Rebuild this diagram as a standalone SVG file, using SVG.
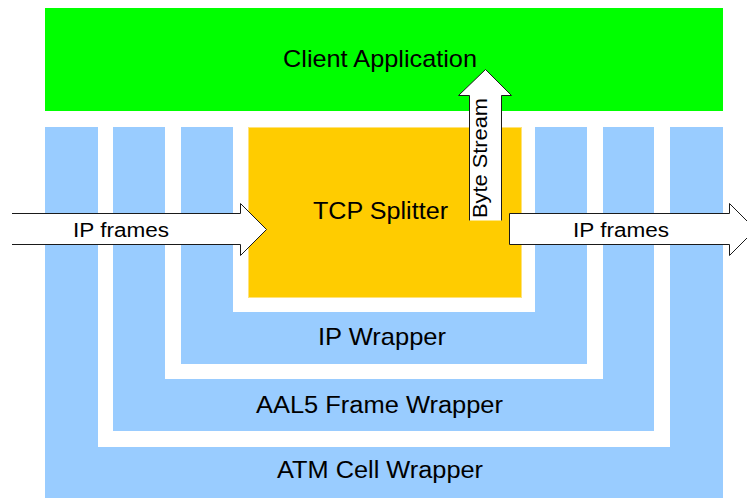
<svg xmlns="http://www.w3.org/2000/svg" width="747" height="498" viewBox="0 0 747 498">
<style>
.t{font-family:"Liberation Sans",Arial,sans-serif;fill:#000;text-anchor:middle}
.blue{fill:#99CCFF}
.gap{fill:#FFFFFF}
.arrow{fill:#FFFFFF;stroke:#1a1a1a;stroke-width:1}
</style>
<rect x="0" y="0" width="747" height="498" fill="#FFFFFF"/>
<g id="client-application">
<rect x="45" y="8" width="678" height="103" fill="#00FF00"/>
<text class="t" x="380" y="67" font-size="24" textLength="194" lengthAdjust="spacingAndGlyphs">Client Application</text>
</g>
<g id="atm-cell-wrapper">
<rect class="blue" x="45" y="127" width="678" height="371"/>
<rect class="gap" x="98" y="127" width="572" height="320"/>
<text class="t" x="380" y="478" font-size="23" textLength="206" lengthAdjust="spacingAndGlyphs">ATM Cell Wrapper</text>
</g>
<g id="aal5-frame-wrapper">
<rect class="blue" x="113" y="127" width="541" height="304"/>
<rect class="gap" x="165" y="127" width="438" height="252"/>
<text class="t" x="379.5" y="413" font-size="23" textLength="247" lengthAdjust="spacingAndGlyphs">AAL5 Frame Wrapper</text>
</g>
<g id="ip-wrapper">
<rect class="blue" x="181" y="127" width="406" height="237"/>
<rect class="gap" x="233" y="127" width="302" height="185"/>
<text class="t" x="382" y="345" font-size="24" textLength="128" lengthAdjust="spacingAndGlyphs">IP Wrapper</text>
</g>
<g id="tcp-splitter">
<rect x="248.5" y="127.5" width="273" height="170" fill="#FFCC00" stroke="#FFE27A" stroke-width="1"/>
<text class="t" x="380.5" y="219" font-size="23" textLength="135" lengthAdjust="spacingAndGlyphs">TCP Splitter</text>
</g>
<g id="connectors">
<g id="ip-frames-in">
<path class="arrow" d="M12,213.5 H240.5 V203.5 L266.5,229.5 L240.5,255.5 V244.5 H12"/>
<text class="t" x="121" y="237" font-size="20" textLength="96" lengthAdjust="spacingAndGlyphs">IP frames</text>
</g>
<g id="ip-frames-out">
<path class="arrow" d="M509.5,213.5 H729.5 V203.5 L755.5,229.5 L729.5,255.5 V244.5 H509.5 Z"/>
<text class="t" x="621" y="237" font-size="20" textLength="96" lengthAdjust="spacingAndGlyphs">IP frames</text>
</g>
<g id="byte-stream">
<path class="arrow" d="M469.5,220.5 V95.5 H458.5 L485.5,69.5 L511.5,95.5 H501.5 V220.5"/>
<text class="t" transform="translate(487,158) rotate(-90)" x="0" y="0" font-size="21" textLength="120" lengthAdjust="spacingAndGlyphs">Byte Stream</text>
</g>
</g>
</svg>
